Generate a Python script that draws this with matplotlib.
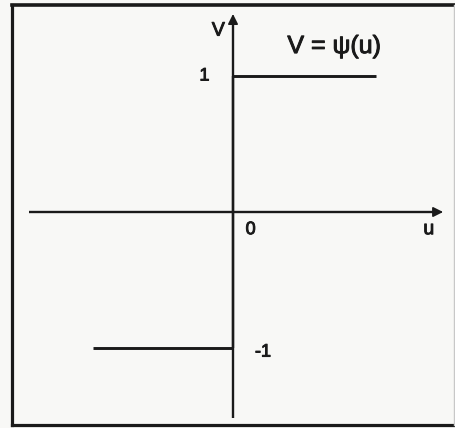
import matplotlib
matplotlib.use("Agg")
import matplotlib.pyplot as plt
from matplotlib.lines import Line2D
import matplotlib.patheffects as pe

plt.rcParams['font.family'] = ['Liberation Sans', 'DejaVu Sans']

# Signum-type relay characteristic V = psi(u)
step_u_left = [-1.03, 0.0]
step_v_low = [-1.0, -1.0]
step_u_right = [0.0, 1.05]
step_v_high = [1.0, 1.0]
jump_u = [0.0, 0.0]
jump_v = [-1.0, 1.0]

tick_labels = {"0": (0.0, 0.0), "1": (0.0, 1.0), "-1": (0.0, -1.0)}
title_text = "V = \u03c8(u)"

W, H = 456, 428
bg = '#f8f8f6'
fig = plt.figure(figsize=(W / 100, H / 100), dpi=100)
fig.patch.set_facecolor(bg)
ax = fig.add_axes([0, 0, 1, 1])
ax.set_facecolor(bg)
ax.axis('off')

scale = 136.0
ox, oy = 233.0, 212.0
ax.set_xlim(-ox / scale, (W - ox) / scale)
ax.set_ylim(-(H - oy) / scale, oy / scale)

ink = '#1a1a1a'
thick = [pe.withStroke(linewidth=0.7, foreground=ink)]

# coordinate axes with arrow heads
u_axis = (-1.50, 1.545)
v_axis = (-1.515, 1.456)
ax.plot([u_axis[0], u_axis[1] - 0.05], [0, 0], color=ink, lw=1.7, solid_capstyle='butt')
ax.plot([0, 0], [v_axis[0], v_axis[1] - 0.05], color=ink, lw=1.7, solid_capstyle='butt')
ax.annotate('', xy=(u_axis[1], 0), xytext=(u_axis[1] - 0.1, 0),
            arrowprops=dict(arrowstyle='-|>', lw=1.2, color=ink, mutation_scale=15,
                            shrinkA=0, shrinkB=0))
ax.annotate('', xy=(0, v_axis[1]), xytext=(0, v_axis[1] - 0.1),
            arrowprops=dict(arrowstyle='-|>', lw=1.2, color=ink, mutation_scale=15,
                            shrinkA=0, shrinkB=0))

# characteristic
ax.plot(step_u_left, step_v_low, color=ink, lw=2.1, solid_capstyle='butt')
ax.plot(step_u_right, step_v_high, color=ink, lw=2.1, solid_capstyle='butt')
ax.plot(jump_u, jump_v, color=ink, lw=1.7, solid_capstyle='butt')

# labels
fs = 13
ax.text(-0.06, 1.33, "V", fontsize=14, ha='right', va='center', color=ink, path_effects=thick)
ax.text(0.40, 1.22, title_text, fontsize=18, ha='left', va='center', color=ink, path_effects=thick)
ax.text(-0.21, tick_labels["1"][1], "1", fontsize=fs, ha='center', va='center', color=ink, path_effects=thick)
ax.text(0.13, -0.13, "0", fontsize=fs, ha='center', va='center', color=ink, path_effects=thick)
ax.text(1.44, -0.13, "u", fontsize=fs + 1, ha='center', va='center', color=ink, path_effects=thick)
ax.text(0.22, tick_labels["-1"][1] - 0.03, "-1", fontsize=fs, ha='center', va='center', color=ink, path_effects=thick)

# frame around the drawing: dark left/top/bottom, faint right edge
def px_line(x0, y0, x1, y1, color, lw):
    fig.add_artist(Line2D([x0 / W, x1 / W], [1 - y0 / H, 1 - y1 / H],
                          transform=fig.transFigure, color=color, lw=lw,
                          solid_capstyle='projecting'))

px_line(12, 5, 455, 5, ink, 2.6)
px_line(12, 5, 12, 425, ink, 2.3)
px_line(12, 425, 455, 425, ink, 2.3)
px_line(454, 5, 454, 425, '#c8c8c8', 1.0)

fig.savefig('out.png', dpi=100, facecolor=fig.get_facecolor())
